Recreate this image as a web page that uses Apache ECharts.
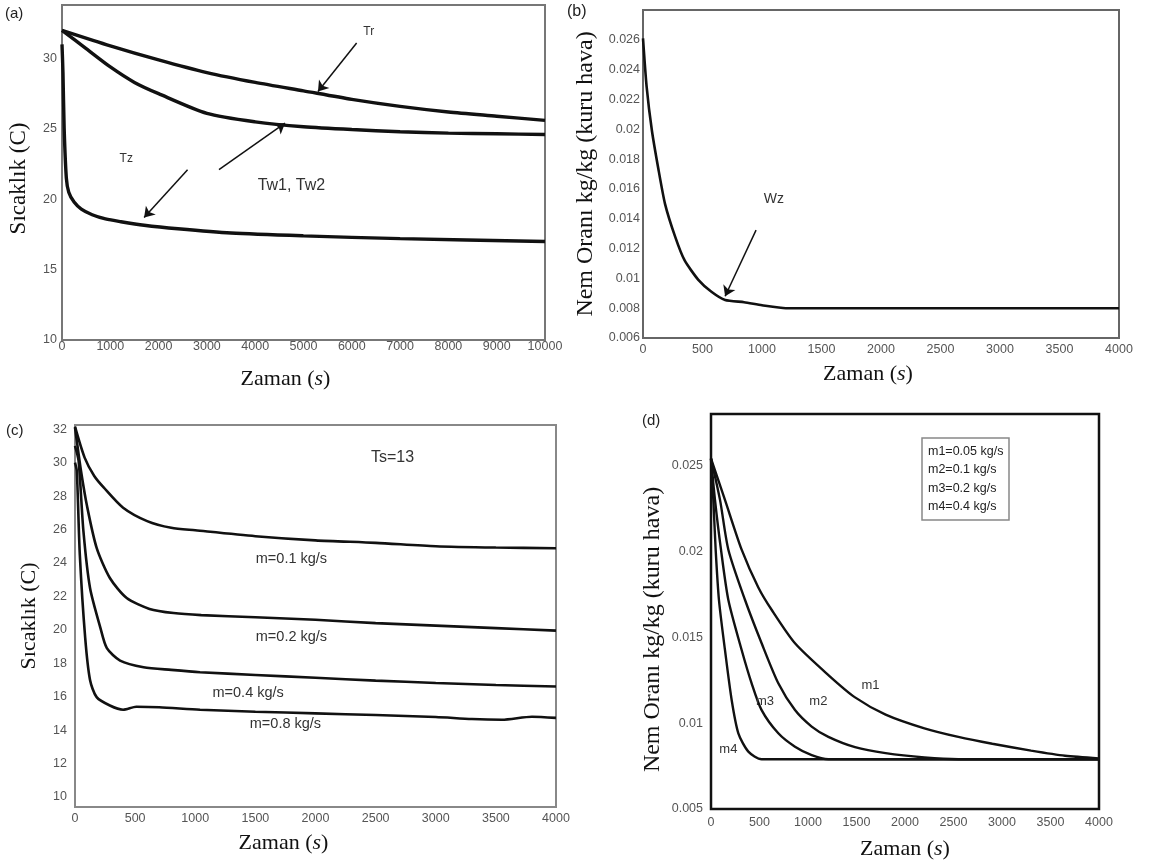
<!DOCTYPE html>
<html>
<head>
<meta charset="utf-8">
<script src="https://cdn.jsdelivr.net/npm/echarts@6/dist/echarts.min.js"></script>
<style>
html, body { margin: 0; padding: 0; background: #fff; }
#chart { width: 1158px; height: 865px; }
</style>
</head>
<body>
<div id="chart"></div>
<script>
// (a) sıcaklıklar, zaman 0-10000 s
const aTrTime = [0, 1000, 2000, 3000, 4000, 5000, 6000, 7000, 8000, 9000, 10000]
const aTr = [32, 30.9, 29.9, 29.0, 28.3, 27.7, 27.1, 26.6, 26.2, 25.9, 25.6]
const aTwTime = [0, 500, 1000, 1500, 2000, 3000, 4000, 5000, 6000, 7000, 8000, 9000, 10000]
const aTw = [32, 30.7, 29.4, 28.3, 27.5, 26.1, 25.5, 25.15, 24.95, 24.8, 24.7, 24.65, 24.6]
const aTzTime = [0, 20, 45, 90, 140, 250, 400, 625, 900, 1220, 1700, 2400, 3500, 5000, 7000, 10000]
const aTz = [31, 29, 25, 21.5, 20.5, 19.8, 19.3, 18.9, 18.6, 18.4, 18.15, 17.9, 17.6, 17.4, 17.2, 17.0]

// (b) nem oranı Wz
const bTime = [0, 30, 75, 130, 185, 270, 350, 465, 575, 690, 850, 1000, 1200, 4000]
const bWz = [0.0261, 0.0229, 0.0199, 0.0173, 0.0150, 0.0128, 0.0112, 0.0099, 0.0091, 0.00855, 0.0084, 0.0082, 0.0080, 0.0080]

// (c) farklı debilerde sıcaklık
const c01Time = [0, 80, 160, 240, 400, 600, 800, 1000, 1500, 2000, 2500, 3000, 3500, 4000]
const c01 = [32.15, 30.3, 29.2, 28.5, 27.3, 26.5, 26.1, 25.95, 25.6, 25.35, 25.2, 25.0, 24.92, 24.88]
const c02Time = [0, 15, 50, 100, 180, 290, 430, 620, 820, 1050, 1500, 2000, 2500, 3000, 3500, 4000]
const c02 = [32.1, 31.3, 29.5, 27.4, 24.9, 23.1, 21.9, 21.25, 21.0, 20.88, 20.75, 20.6, 20.4, 20.25, 20.1, 19.95]
const c04Time = [0, 30, 70, 125, 210, 265, 375, 570, 800, 1040, 1500, 2000, 2500, 3000, 3500, 4000]
const c04 = [31.0, 30.1, 25.9, 22.5, 20.15, 18.9, 18.16, 17.76, 17.6, 17.46, 17.3, 17.13, 16.96, 16.82, 16.7, 16.61]
const c08Time = [0, 15, 40, 85, 125, 180, 290, 400, 510, 700, 1040, 1500, 2000, 2500, 3000, 3300, 3550, 3800, 4000]
const c08 = [30.0, 29.5, 24.5, 19.5, 17.0, 15.97, 15.47, 15.22, 15.4, 15.37, 15.22, 15.1, 15.0, 14.9, 14.78, 14.66, 14.62, 14.8, 14.73]

// (d) farklı debilerde nem oranı
const dM1Time = [0, 144, 316, 488, 625, 866, 1210, 1485, 1800, 2200, 2550, 2900, 3300, 3650, 4000]
const dM1 = [0.0254, 0.0230, 0.0201, 0.0179, 0.0166, 0.01465, 0.0128, 0.0115, 0.0105, 0.0097, 0.0092, 0.0088, 0.0084, 0.0081, 0.00795]
const dM2Time = [0, 93, 179, 351, 522, 694, 866, 1038, 1210, 1485, 1800, 2200, 2550, 4000]
const dM2 = [0.0254, 0.0230, 0.0201, 0.01717, 0.01465, 0.01232, 0.01076, 0.0098, 0.0092, 0.0086, 0.00825, 0.0080, 0.0079, 0.0079]
const dM3Time = [0, 41, 103, 179, 316, 419, 522, 694, 866, 1038, 1210, 4000]
const dM3 = [0.0254, 0.0230, 0.0201, 0.01717, 0.01426, 0.01232, 0.01076, 0.00941, 0.00863, 0.00814, 0.0079, 0.0079]
const dM4Time = [0, 24, 48, 82, 144, 213, 282, 385, 522, 4000]
const dM4 = [0.0254, 0.0230, 0.0201, 0.01717, 0.01426, 0.01135, 0.00941, 0.00834, 0.0079, 0.0079]

// eksen etiketleri
const bYTicks = [0.006, 0.008, 0.01, 0.012, 0.014, 0.016, 0.018, 0.02, 0.022, 0.024, 0.026]
const cYTicks = [10, 12, 14, 16, 18, 20, 22, 24, 26, 28, 30, 32]
const dYTicks = [0.005, 0.01, 0.015, 0.02, 0.025]

const serif = 'Liberation Serif'
const sans = 'Liberation Sans'

const pairs = (xs, ys) => xs.map((x, i) => [x, ys[i]])

function curve(idx, xs, ys, width, extra) {
  return Object.assign({
    type: 'line',
    xAxisIndex: idx,
    yAxisIndex: idx,
    data: pairs(xs, ys),
    symbol: 'none',
    smooth: 0.25,
    lineStyle: { color: '#111', width: width },
    silent: true
  }, extra || {})
}

// ok işaretleri
function arrows(list) {
  return {
    silent: true,
    symbol: ['none', 'arrow'],
    symbolSize: 10,
    lineStyle: { color: '#111', width: 1.5, type: 'solid' },
    label: { show: false },
    data: list.map(a => [{ coord: a[0] }, { coord: a[1] }])
  }
}

// yazı etiketleri
function texts(list, size) {
  return {
    silent: true,
    symbol: 'rect',
    symbolSize: 1,
    itemStyle: { color: 'rgba(0,0,0,0)' },
    label: { show: true, position: 'inside', formatter: '{b}', color: '#333', fontFamily: sans, fontSize: size },
    data: list.map(t => ({ name: t[0], coord: t[1], label: t[2] ? { fontSize: t[2] } : undefined }))
  }
}

const numLabel = (m, extra) => Object.assign({
  fontFamily: sans, fontSize: 12.5, color: '#555', margin: m,
  formatter: v => String(v)
}, extra || {})

const zamanName = (gap, pad) => ({
  name: 'Zaman ({i|s})',
  nameLocation: 'middle',
  nameGap: gap,
  nameTextStyle: {
    fontFamily: serif, fontSize: 22, color: '#111', padding: pad,
    rich: { i: { fontFamily: serif, fontSize: 22, fontStyle: 'italic', color: '#111' } }
  }
})

const plain = { splitLine: { show: false }, axisTick: { show: false }, axisLine: { show: false } }

const option = {
  animation: false,
  backgroundColor: '#fff',
  grid: [
    { left: 62, top: 5, width: 483, height: 335, show: true, borderColor: '#777', borderWidth: 2 },
    { left: 643, top: 10, width: 476, height: 328, show: true, borderColor: '#666', borderWidth: 2 },
    { left: 75, top: 425, width: 481, height: 382, show: true, borderColor: '#888', borderWidth: 2 },
    { left: 711, top: 414, width: 388, height: 395, show: true, borderColor: '#111', borderWidth: 2.5 }
  ],
  xAxis: [
    Object.assign({ gridIndex: 0, type: 'value', min: 0, max: 10000, interval: 1000, axisLabel: numLabel(0) }, plain, zamanName(28, [0, 36, 0, 0])),
    Object.assign({ gridIndex: 1, type: 'value', min: 0, max: 4000, interval: 500, axisLabel: numLabel(5) }, plain, zamanName(25, [0, 26, 0, 0])),
    Object.assign({ gridIndex: 2, type: 'value', min: 0, max: 4000, interval: 500, axisLabel: numLabel(5) }, plain, zamanName(25, [0, 64, 0, 0])),
    Object.assign({ gridIndex: 3, type: 'value', min: 0, max: 4000, interval: 500, axisLabel: numLabel(7) }, plain, zamanName(29, [0, 0, 0, 0]))
  ],
  yAxis: [
    Object.assign({
      gridIndex: 0, type: 'value', min: 10, max: 33.8, interval: 5,
      axisLabel: numLabel(5, { showMaxLabel: false }),
      name: 'Sıcaklık (C)', nameLocation: 'middle', nameGap: 32,
      nameTextStyle: { fontFamily: serif, fontSize: 23, color: '#111', padding: [0, 12, 0, 0] }
    }, plain),
    Object.assign({
      gridIndex: 1, type: 'value', min: 0.006, max: 0.028,
      axisLabel: numLabel(3, { customValues: bYTicks }),
      name: 'Nem Oranı kg/kg (kuru hava)', nameLocation: 'middle', nameGap: 45,
      nameTextStyle: { fontFamily: serif, fontSize: 24, color: '#111' }
    }, plain),
    Object.assign({
      gridIndex: 2, type: 'value', min: 9.4, max: 32.25,
      axisLabel: numLabel(8, { customValues: cYTicks }),
      name: 'Sıcaklık (C)', nameLocation: 'middle', nameGap: 35,
      nameTextStyle: { fontFamily: serif, fontSize: 22, color: '#111' }
    }, plain),
    Object.assign({
      gridIndex: 3, type: 'value', min: 0.005, max: 0.028,
      axisLabel: numLabel(8, { customValues: dYTicks }),
      name: 'Nem Oranı kg/kg (kuru hava)', nameLocation: 'middle', nameGap: 46,
      nameTextStyle: { fontFamily: serif, fontSize: 24, color: '#111', padding: [0, 36, 0, 0] }
    }, plain)
  ],
  title: [
    {
      text: 'm1=0.05 kg/s\nm2=0.1 kg/s\nm3=0.2 kg/s\nm4=0.4 kg/s',
      left: 922, top: 438,
      padding: [4, 6, 4, 6],
      borderColor: '#888', borderWidth: 1.5,
      textStyle: { fontFamily: sans, fontSize: 12.5, fontWeight: 'normal', color: '#222', lineHeight: 18.5 }
    }
  ],
  graphic: [
    { type: 'text', left: 5, top: 6, style: { text: '(a)', font: '15px "Liberation Sans"', fill: '#222' } },
    { type: 'text', left: 567, top: 4, style: { text: '(b)', font: '16px "Liberation Sans"', fill: '#222' } },
    { type: 'text', left: 6, top: 423, style: { text: '(c)', font: '15px "Liberation Sans"', fill: '#222' } },
    { type: 'text', left: 642, top: 413, style: { text: '(d)', font: '15px "Liberation Sans"', fill: '#222' } }
  ],
  series: [
    curve(0, aTrTime, aTr, 3.4, {
      markLine: arrows([
        [[6100, 31.1], [5300, 27.65]],
        [[2600, 22.1], [1700, 18.7]],
        [[3250, 22.1], [4617, 25.4]]
      ]),
      markPoint: texts([
        ['Tr', [6350, 31.9]],
        ['Tz', [1330, 22.9]],
        ['Tw1, Tw2', [4750, 21.0], 16]
      ], 12)
    }),
    curve(0, aTwTime, aTw, 3.4),
    curve(0, aTzTime, aTz, 3.4),

    curve(1, bTime, bWz, 2.6, {
      smooth: 0.2,
      markLine: arrows([[[950, 0.01324], [690, 0.0088]]]),
      markPoint: texts([['Wz', [1100, 0.0153]]], 14)
    }),

    curve(2, c01Time, c01, 2.6, {
      markPoint: texts([
        ['Ts=13', [2640, 30.3], 16],
        ['m=0.1 kg/s', [1800, 24.23]],
        ['m=0.2 kg/s', [1800, 19.59]],
        ['m=0.4 kg/s', [1440, 16.21]],
        ['m=0.8 kg/s', [1750, 14.34]]
      ], 14.5)
    }),
    curve(2, c02Time, c02, 2.6),
    curve(2, c04Time, c04, 2.6),
    curve(2, c08Time, c08, 2.6),

    curve(3, dM1Time, dM1, 2.4, {
      markPoint: texts([
        ['m1', [1645, 0.01221]],
        ['m2', [1107, 0.01125]],
        ['m3', [557, 0.01125]],
        ['m4', [179, 0.00844]]
      ], 13)
    }),
    curve(3, dM2Time, dM2, 2.4),
    curve(3, dM3Time, dM3, 2.4),
    curve(3, dM4Time, dM4, 2.4)
  ]
}

const myChart = echarts.init(document.getElementById('chart'))
myChart.setOption(option)
</script>
</body>
</html>
